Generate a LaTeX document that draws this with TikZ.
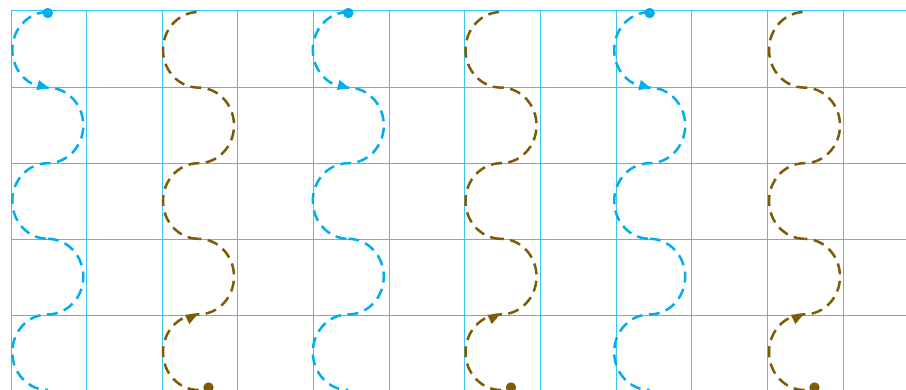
\documentclass[tikz,border=0pt]{standalone}
\definecolor{gridc}{RGB}{60,196,240}
\definecolor{cyanc}{RGB}{0,174,239}
\definecolor{brownc}{RGB}{125,92,5}
\begin{document}
\begin{tikzpicture}[x=1pt,y=1pt,
  curve/.style={line width=2.5pt, dash pattern=on 11pt off 6.5pt},
  gridline/.style={gridc, line width=1pt},
  lobeL/.style={start angle=90,end angle=270,x radius=35.5pt,y radius=37.8pt},
  lobeR/.style={start angle=90,end angle=-90,x radius=35.5pt,y radius=37.8pt},
  upL/.style={start angle=270,end angle=90,x radius=35.5pt,y radius=37.8pt},
  upR/.style={start angle=-90,end angle=90,x radius=35.5pt,y radius=37.8pt}]
\useasboundingbox (0,0) rectangle (906,-390);
\begin{scope}
\clip (0,0) rectangle (906,-390);
\foreach \i in {0,...,11} \draw[gridline] ({11+75.64*\i},-11) -- ({11+75.64*\i},-391);
\foreach \j in {0,...,4} \draw[gridline] (11,{-11-76.2*\j}) -- (907,{-11-76.2*\j});
% cyan curves (downward)
\foreach \cx in {47.8,348.3,649.7} {
  \draw[cyanc, curve] (\cx,-12) arc[lobeL] arc[lobeR] arc[lobeL];
  \draw[cyanc, curve] (\cx,-238.8) arc[lobeR] arc[lobeL];
  \fill[cyanc] (\cx,-13) circle[radius=5.2pt];
  \fill[cyanc, shift={(\cx+1,-88)}, rotate=-15] (0,0) -- (-11.5,5.2) -- (-11.5,-5.2) -- cycle;
}
% brown curves (upward)
\foreach \cx in {198.5,501,804.5} {
  \draw[brownc, curve] (\cx,-390) arc[upL] arc[upR];
  \draw[brownc, curve] (\cx,-238.8) arc[upL] arc[upR] arc[upL];
  \fill[brownc] (\cx+10,-387.5) circle[radius=5.2pt];
  \fill[brownc, shift={(\cx-1,-314.5)}, rotate=25] (0,0) -- (-11.5,5.2) -- (-11.5,-5.2) -- cycle;
}
\end{scope}
\end{tikzpicture}
\end{document}
